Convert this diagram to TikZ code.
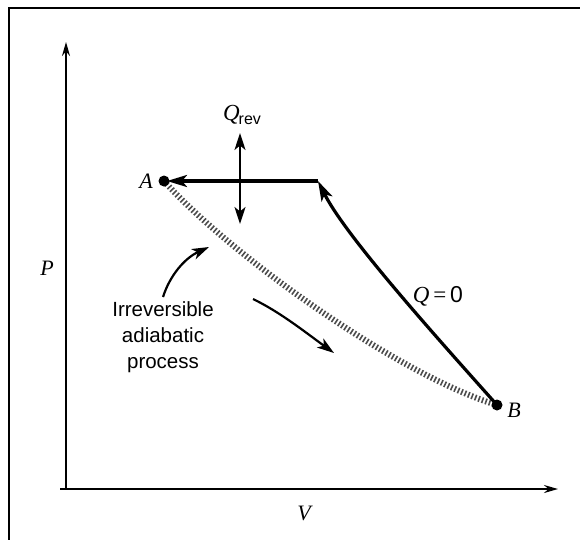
\documentclass[tikz,border=0pt]{standalone}
\usepackage{fontspec}
\setmainfont{Liberation Serif}
\setsansfont{Liberation Sans}
\usetikzlibrary{arrows.meta,positioning}
\tikzset{
  lbl/.style={inner sep=0pt, font=\fontsize{22}{26}\selectfont\itshape},
  sanslbl/.style={inner sep=0pt, align=center, font=\fontsize{20.5}{26}\selectfont\sffamily},
  axis/.style={line width=1.8pt, -{Stealth[length=14pt,width=8pt]}},
  proc/.style={line width=3.2pt, -{Stealth[length=20pt,width=12pt,inset=5pt]}},
  thin arrow/.style={line width=2.2pt, -{Stealth[length=17pt,width=11pt,inset=4.5pt]}},
  hatch/.style={line width=6pt, black!70, dash pattern=on 1.6pt off 2.1pt},
  dot/.style={circle, fill=black, inner sep=0pt, minimum size=11pt}
}
\begin{document}
\begin{tikzpicture}[x=1pt,y=-1pt]
\useasboundingbox (0,0) rectangle (580,539);
% frame
\draw[line width=2.2pt] (9,560) -- (9,8) -- (600,8);
% axes
\coordinate (O) at (66,489);
\coordinate (Ytop) at (66,42);
\coordinate (Xend) at (558,489);
\draw[axis] (O) -- (Ytop);
\draw[axis] ([xshift=-6pt]O) -- (Xend);
\node[lbl] (P) at (47,268) {P};
\node[lbl] (V) at (304,513) {V};
% states
\coordinate (Ac) at (164,181);
\coordinate (Bc) at (497,405);
\node[lbl] (Alab) at (146,181) {A};
\node[lbl] (Blab) at (514,410) {B};
\coordinate (C) at (318,181);
% irreversible path (hatched)
\draw[hatch] (Ac) .. controls (230,255) and (400,376) .. (Bc);
% reversible adiabatic then isobaric
\draw[proc] (Bc) .. controls (430,330) and (345,235) .. (C);
\draw[proc] (C) -- ([xshift=3pt]Ac);
\node[dot] (A) at (Ac) {};
\node[dot] (B) at (Bc) {};
% heat arrow
\coordinate (Qtop) at (240,133);
\coordinate (Qbot) at (240,224);
\coordinate (Qmid) at (240,181);
\draw[thin arrow] (Qmid) -- (Qtop);
\draw[thin arrow] (Qmid) -- (Qbot);
\node[inner sep=0pt] (Qrev) at (242,115) {\fontsize{23}{26}\selectfont\textit{Q}\kern-1pt\raisebox{-4pt}{\fontsize{16}{18}\selectfont\sffamily rev}};
\node[inner sep=0pt] (Q0) at (438,296) {\fontsize{23}{26}\selectfont\textit{Q}\,=\,\textsf{0}};
% annotation
\node[sanslbl] (txt) at (163,337) {Irreversible\\adiabatic\\process};
\coordinate (pt1) at (163,297);
\coordinate (pt2) at (209,247);
\draw[thin arrow] (pt1) .. controls (170,275) and (185,258) .. (pt2);
\coordinate (d1) at (253,299);
\coordinate (d2) at (334,353);
\draw[thin arrow] (d1) .. controls (280,312) and (305,332) .. (d2);
\end{tikzpicture}
\end{document}
